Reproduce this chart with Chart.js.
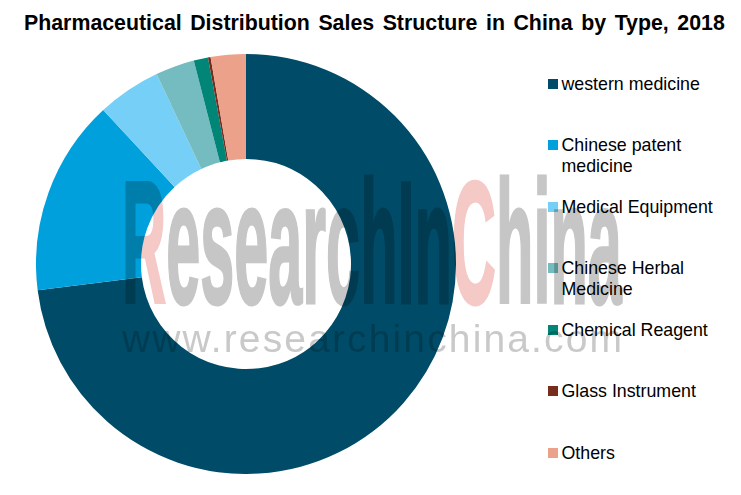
<!DOCTYPE html>
<html>
<head>
<meta charset="utf-8">
<script src="https://cdn.jsdelivr.net/npm/chart.js@4"></script>
<style>
html, body { margin: 0; padding: 0; background: #fff; }
#page { position: relative; width: 741px; height: 495px; overflow: hidden; font-family: "Liberation Sans", Arial, sans-serif; }
#title { position: absolute; left: 24px; top: 11px; margin: 0; font-size: 21.33px; line-height: 24px; font-weight: bold; color: #000; white-space: nowrap; word-spacing: 2.6px; }
#chartBox { position: absolute; left: 36px; top: 54px; width: 420px; height: 420px; }
.legendRow { position: absolute; left: 548px; color: #000; font-size: 17.8px; line-height: 21px; }
.legendRow i { position: absolute; left: 0; top: 6px; width: 10px; height: 10px; }
.legendRow span { display: block; margin: 1px 0 0 13.5px; white-space: nowrap; }
.mark { position: absolute; left: 122px; white-space: nowrap; mix-blend-mode: multiply; pointer-events: none; transform-origin: 0 0; }
#markBig { top: 148px; font-size: 174px; line-height: 190px; font-weight: bold; color: #c6c6c6; -webkit-text-stroke: 3px #c6c6c6; }
#markBig b { color: #f4c9c6; -webkit-text-stroke: 3px #f4c9c6; }
#markUrl { top: 317px; font-size: 39px; line-height: 44px; color: #c9c9c9; }
</style>
</head>
<body>
<div id="page">
  <h1 id="title">Pharmaceutical Distribution Sales Structure in China by Type, 2018</h1>
  <div id="chartBox"><canvas id="donut" width="420" height="420"></canvas></div>
  <div id="legend"></div>
  <div class="mark" id="markBig"><b>R</b>esearchIn<b>C</b>hina</div>
  <div class="mark" id="markUrl">www.researchinchina.com</div>
</div>
<script>
const categories = ['western medicine', 'Chinese patent medicine', 'Medical Equipment', 'Chinese Herbal Medicine', 'Chemical Reagent', 'Glass Instrument', 'Others']
const legendLines = [['western medicine'], ['Chinese patent', 'medicine'], ['Medical Equipment'], ['Chinese Herbal', 'Medicine'], ['Chemical Reagent'], ['Glass Instrument'], ['Others']]
const shares = [73.0, 15.1, 4.9, 3.0, 1.1, 0.2, 2.7]
const colors = ['#004c68', '#00a0dc', '#75cff7', '#74bcc0', '#008577', '#772c1e', '#eba18a']
const legendTops = [73, 134, 196, 257, 319, 380, 442]

//------------------------- legend ----------------------------------
const legend = document.querySelector('#legend')
categories.forEach((name, i) => {
    const row = document.createElement('div')
    row.className = 'legendRow'
    row.style.top = legendTops[i] + 'px'
    const box = document.createElement('i')
    box.style.background = colors[i]
    const text = document.createElement('span')
    text.innerHTML = legendLines[i].join('<br>')
    row.append(box, text)
    legend.append(row)
})

//------------------------- watermark -------------------------------
const markWidth = 500
const big = document.querySelector('#markBig')
big.style.transform = `scaleX(${markWidth / big.offsetWidth})`
const url = document.querySelector('#markUrl')
const urlText = url.textContent
url.style.letterSpacing = (markWidth - url.offsetWidth) / (urlText.length - 1) + 'px'

//------------------------- chart -----------------------------------
new Chart(document.querySelector('#donut'), {
    type: 'doughnut',
    data: {
        labels: categories,
        datasets: [{
            data: shares,
            backgroundColor: colors,
            borderWidth: 0
        }]
    },
    options: {
        responsive: false,
        animation: false,
        cutout: '50%',
        layout: { padding: 0 },
        plugins: {
            legend: { display: false },
            tooltip: { enabled: false }
        }
    }
})
</script>
</body>
</html>
